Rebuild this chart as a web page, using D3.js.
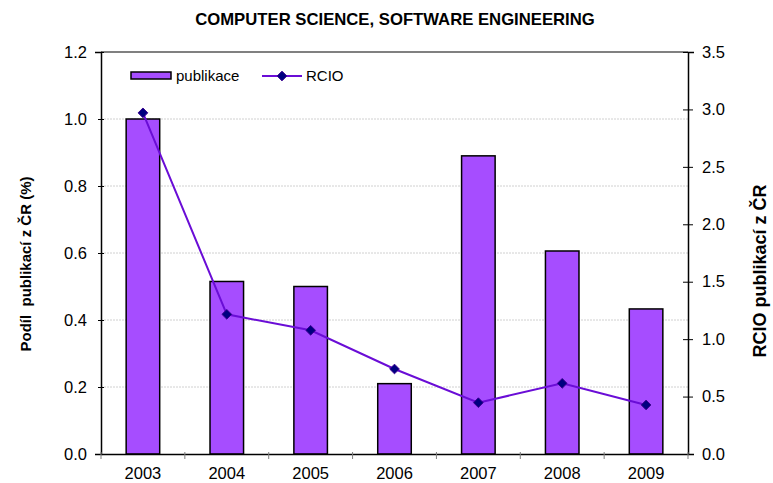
<!DOCTYPE html>
<html>
<head>
<meta charset="utf-8">
<script src="https://cdn.jsdelivr.net/npm/d3@7"></script>
<style>
  body { margin: 0; background: #fff; }
  text { font-family: "Liberation Sans", Arial, sans-serif; }
</style>
</head>
<body>
<div id="chart"></div>
<script>
var years = ["2003", "2004", "2005", "2006", "2007", "2008", "2009"];
var publikace = [1.0, 0.515, 0.5, 0.21, 0.89, 0.606, 0.433];
var rcio = [2.97, 1.216, 1.077, 0.74, 0.447, 0.615, 0.427];
var leftTicks = [0, 0.2, 0.4, 0.6, 0.8, 1.0, 1.2];
var rightTicks = [0, 0.5, 1.0, 1.5, 2.0, 2.5, 3.0, 3.5];

var width = 773, height = 483;
var margin = {top: 52, right: 85, bottom: 29, left: 101};
var plotW = width - margin.left - margin.right,
    plotH = height - margin.top - margin.bottom;
var fontTick = 16.5;

var svg = d3.select("#chart").append("svg")
    .attr("width", width)
    .attr("height", height);

var g = svg.append("g")
    .attr("transform", "translate(" + margin.left + "," + margin.top + ")");

var x = d3.scaleBand().domain(years).range([0, plotW]).paddingInner(0.6).paddingOuter(0.3);
var xb = d3.scaleBand().domain(years).range([0, plotW]);
var yL = d3.scaleLinear().domain([0, 1.2]).range([plotH, 0]);
var yR = d3.scaleLinear().domain([0, 3.5]).range([plotH, 0]);

// gridlines
g.append("g")
    .selectAll("line").data(leftTicks.filter(function(d) { return d > 0 && d < 1.2; }))
    .enter().append("line")
    .attr("x1", 0).attr("x2", plotW)
    .attr("y1", function(d) { return yL(d); })
    .attr("y2", function(d) { return yL(d); })
    .attr("stroke", "#d0d0d0")
    .attr("stroke-width", 1)
    .attr("stroke-dasharray", "2,1");

// top border
g.append("line")
    .attr("x1", 0).attr("x2", plotW).attr("y1", 0).attr("y2", 0)
    .attr("stroke", "#808080").attr("stroke-width", 2);

// bars
g.append("g")
    .selectAll("rect").data(publikace)
    .enter().append("rect")
    .attr("x", function(d, i) { return x(years[i]); })
    .attr("width", x.bandwidth())
    .attr("y", function(d) { return yL(d); })
    .attr("height", function(d) { return plotH - yL(d); })
    .attr("fill", "#a64dff")
    .attr("stroke", "#000")
    .attr("stroke-width", 1.5);

// left axis
var axL = g.append("g")
    .call(d3.axisLeft(yL).tickValues(leftTicks).tickFormat(d3.format(".1f")).tickSize(6).tickPadding(8));
axL.select(".domain").attr("stroke", "#000").attr("stroke-width", 1.5);
axL.selectAll(".tick line").attr("x2", 6).attr("x1", 0).attr("stroke", "#000")
    .attr("transform", "translate(-3,0)");
axL.selectAll("text").attr("font-size", fontTick).attr("fill", "#000")
    .attr("font-family", "Liberation Sans, Arial, sans-serif").attr("x", -14);

// right axis
var axR = g.append("g")
    .attr("transform", "translate(" + plotW + ",0)")
    .call(d3.axisRight(yR).tickValues(rightTicks).tickFormat(d3.format(".1f")).tickSize(6).tickPadding(8));
axR.select(".domain").attr("stroke", "#000").attr("stroke-width", 1.5);
axR.selectAll(".tick line").attr("stroke", "#000").attr("transform", "translate(-5,0)").attr("x2", 10);
axR.selectAll("text").attr("font-size", fontTick).attr("fill", "#000")
    .attr("font-family", "Liberation Sans, Arial, sans-serif").attr("x", 14);

// bottom axis
var axB = g.append("g")
    .attr("transform", "translate(0," + plotH + ")")
    .call(d3.axisBottom(xb).tickSize(0).tickPadding(13));
axB.select(".domain").attr("stroke", "#000").attr("stroke-width", 1.5);
axB.selectAll("text").attr("font-size", fontTick).attr("fill", "#000")
    .attr("font-family", "Liberation Sans, Arial, sans-serif");
axB.append("g").selectAll("line")
    .data(years.concat(["end"]))
    .enter().append("line")
    .attr("x1", function(d, i) { return i * xb.step(); })
    .attr("x2", function(d, i) { return i * xb.step(); })
    .attr("y1", -2).attr("y2", 5)
    .attr("stroke", "#808080").attr("stroke-width", 1);

// RCIO line
var line = d3.line()
    .x(function(d, i) { return xb(years[i]) + xb.bandwidth() / 2; })
    .y(function(d) { return yR(d); });

g.append("path")
    .datum(rcio)
    .attr("d", line)
    .attr("fill", "none")
    .attr("stroke", "#6a0dd6")
    .attr("stroke-width", 2);

var diamond = d3.symbol().type(d3.symbolDiamond2).size(60);
g.append("g")
    .selectAll("path").data(rcio)
    .enter().append("path")
    .attr("d", diamond)
    .attr("transform", function(d, i) {
        return "translate(" + (xb(years[i]) + xb.bandwidth() / 2) + "," + yR(d) + ")";
    })
    .attr("fill", "#000080")
    .attr("stroke", "#3a0090")
    .attr("stroke-width", 1);

// legend
var leg = svg.append("g");
leg.append("rect")
    .attr("x", 131).attr("y", 72).attr("width", 40).attr("height", 7)
    .attr("fill", "#a64dff").attr("stroke", "#000").attr("stroke-width", 1.5);
leg.append("text")
    .attr("x", 176).attr("y", 81)
    .attr("font-size", 15).text("publikace");
leg.append("line")
    .attr("x1", 262).attr("x2", 302).attr("y1", 76).attr("y2", 76)
    .attr("stroke", "#6a0dd6").attr("stroke-width", 2);
leg.append("path")
    .attr("d", diamond)
    .attr("transform", "translate(282,76)")
    .attr("fill", "#000080").attr("stroke", "#3a0090");
leg.append("text")
    .attr("x", 306).attr("y", 81)
    .attr("font-size", 15).text("RCIO");

// title
svg.append("text")
    .attr("x", 395).attr("y", 25)
    .attr("text-anchor", "middle")
    .attr("font-size", 16.7).attr("font-weight", "bold")
    .text("COMPUTER SCIENCE, SOFTWARE ENGINEERING");

// axis titles
svg.append("text")
    .attr("transform", "translate(31,264) rotate(-90)")
    .attr("text-anchor", "middle")
    .attr("font-size", 15).attr("font-weight", "bold")
    .attr("xml:space", "preserve")
    .text("Podíl  publikací z ČR (%)");

svg.append("text")
    .attr("transform", "translate(766,271) rotate(-90)")
    .attr("text-anchor", "middle")
    .attr("font-size", 18).attr("font-weight", "bold")
    .text("RCIO publikací z ČR");
</script>
</body>
</html>
